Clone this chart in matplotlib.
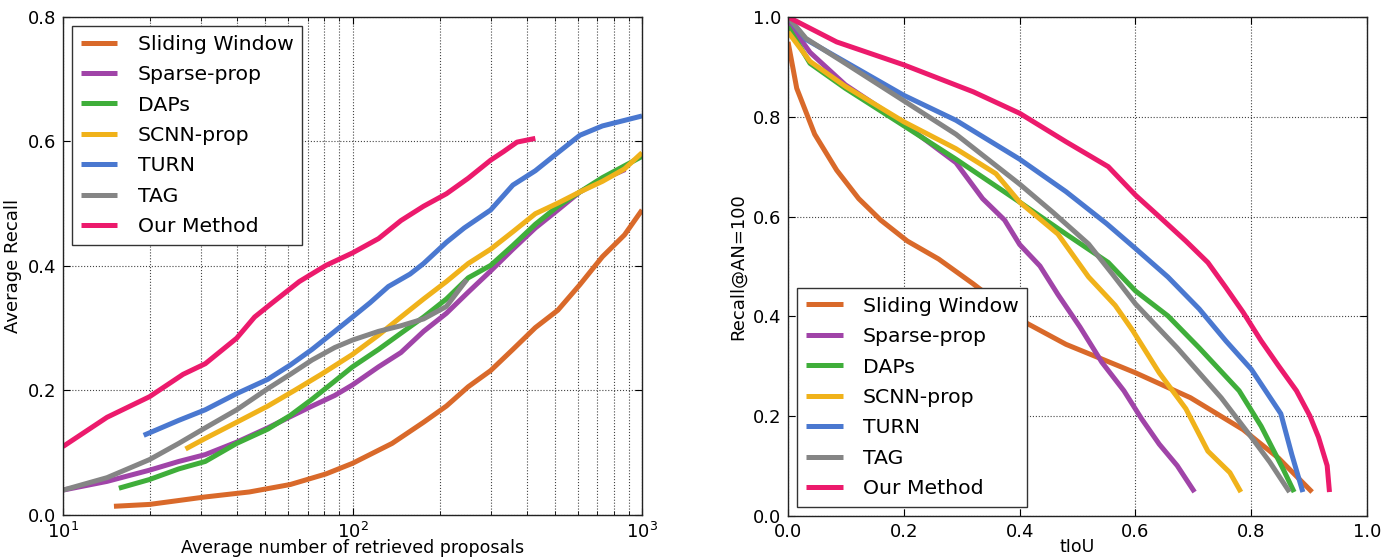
import matplotlib
matplotlib.use("Agg")
import matplotlib.pyplot as plt

# recall vs. number of proposals (left panel)
methods = ["Sliding Window", "Sparse-prop", "DAPs", "SCNN-prop", "TURN", "TAG", "Our Method"]
colors = ["#d9692a", "#a044a8", "#3fae3a", "#f0b21a", "#4a78d0", "#858585", "#ec1a6c"]

sw_n = [15.0, 19.9, 31, 44, 61, 81, 100, 137, 176, 211, 251, 300, 358, 428, 512, 610, 730, 870, 1000]
sw_ar = [0.014, 0.017, 0.029, 0.037, 0.049, 0.066, 0.083, 0.115, 0.149, 0.175, 0.206, 0.232, 0.266, 0.301, 0.329, 0.370, 0.415, 0.450, 0.490]

sp_n = [10, 14.2, 19.9, 25.1, 31, 39.8, 51, 61, 72.5, 86.8, 100, 123, 147, 176, 211, 251, 300, 358, 428, 512, 610, 730, 875]
sp_ar = [0.040, 0.054, 0.072, 0.086, 0.097, 0.117, 0.140, 0.158, 0.175, 0.192, 0.209, 0.238, 0.261, 0.295, 0.324, 0.358, 0.392, 0.427, 0.461, 0.490, 0.519, 0.539, 0.555]

daps_n = [15.6, 19.9, 25.1, 31, 39.8, 51, 61, 72.5, 86.8, 100, 123, 147, 176, 211, 251, 300, 358, 428, 512, 610, 730, 1000]
daps_ar = [0.043, 0.057, 0.074, 0.086, 0.115, 0.138, 0.160, 0.186, 0.215, 0.238, 0.266, 0.292, 0.318, 0.347, 0.381, 0.401, 0.433, 0.467, 0.496, 0.519, 0.542, 0.576]

scnn_n = [26.5, 31, 39.8, 51, 63, 78, 100, 123, 147, 176, 211, 251, 300, 358, 428, 512, 610, 730, 870, 1000]
scnn_ar = [0.106, 0.123, 0.149, 0.175, 0.200, 0.226, 0.258, 0.289, 0.318, 0.347, 0.375, 0.404, 0.427, 0.455, 0.484, 0.501, 0.519, 0.536, 0.556, 0.582]

turn_n = [19.0, 25.1, 31, 39.8, 51, 61, 72.5, 86.8, 100, 115, 133, 158, 176, 211, 243, 300, 358, 428, 512, 610, 730, 1000]
turn_ar = [0.128, 0.152, 0.169, 0.195, 0.218, 0.241, 0.266, 0.295, 0.318, 0.341, 0.367, 0.387, 0.404, 0.438, 0.461, 0.490, 0.530, 0.553, 0.582, 0.610, 0.625, 0.641]

tag_n = [10, 14.2, 19.9, 25.1, 31, 39.8, 51, 61, 72.5, 86.8, 100, 123, 147, 176, 211, 248]
tag_ar = [0.040, 0.060, 0.089, 0.115, 0.140, 0.169, 0.203, 0.226, 0.249, 0.269, 0.281, 0.295, 0.304, 0.315, 0.335, 0.378]

ours_n = [10, 14.2, 19.9, 26.0, 31, 39.8, 45.9, 52.9, 65.5, 81, 100, 123, 147, 176, 211, 251, 300, 333, 370, 428]
ours_ar = [0.110, 0.157, 0.190, 0.226, 0.243, 0.284, 0.318, 0.341, 0.375, 0.401, 0.421, 0.444, 0.473, 0.496, 0.516, 0.541, 0.570, 0.584, 0.599, 0.605]

# recall at AN=100 vs. tIoU threshold (right panel)
sw_t = [0.0, 0.015, 0.046, 0.084, 0.122, 0.160, 0.206, 0.26, 0.32, 0.40, 0.48, 0.60, 0.695, 0.786, 0.847, 0.905]
sw_r = [0.95, 0.857, 0.765, 0.693, 0.636, 0.593, 0.551, 0.515, 0.465, 0.394, 0.344, 0.287, 0.237, 0.173, 0.116, 0.048]

sp_t = [0.0, 0.038, 0.099, 0.20, 0.29, 0.336, 0.374, 0.40, 0.435, 0.466, 0.504, 0.542, 0.58, 0.611, 0.641, 0.672, 0.702]
sp_r = [0.99, 0.929, 0.864, 0.786, 0.708, 0.636, 0.593, 0.544, 0.501, 0.444, 0.379, 0.308, 0.251, 0.194, 0.144, 0.101, 0.048]

daps_t = [0.0, 0.038, 0.099, 0.20, 0.29, 0.40, 0.48, 0.553, 0.60, 0.656, 0.71, 0.779, 0.817, 0.855, 0.874]
daps_r = [0.98, 0.907, 0.857, 0.782, 0.715, 0.629, 0.565, 0.508, 0.451, 0.401, 0.337, 0.251, 0.180, 0.094, 0.048]

scnn_t = [0.0, 0.038, 0.099, 0.20, 0.29, 0.359, 0.40, 0.466, 0.519, 0.565, 0.595, 0.641, 0.687, 0.725, 0.763, 0.782]
scnn_r = [0.97, 0.911, 0.861, 0.790, 0.736, 0.686, 0.629, 0.565, 0.479, 0.422, 0.372, 0.287, 0.215, 0.130, 0.087, 0.048]

turn_t = [0.0, 0.031, 0.099, 0.20, 0.29, 0.40, 0.48, 0.55, 0.60, 0.656, 0.71, 0.756, 0.80, 0.851, 0.870, 0.889]
turn_r = [1.0, 0.955, 0.910, 0.843, 0.793, 0.715, 0.650, 0.586, 0.536, 0.479, 0.415, 0.351, 0.294, 0.205, 0.123, 0.048]

tag_t = [0.0, 0.031, 0.099, 0.20, 0.29, 0.40, 0.458, 0.519, 0.56, 0.60, 0.672, 0.748, 0.80, 0.832, 0.866]
tag_r = [1.0, 0.957, 0.907, 0.832, 0.765, 0.665, 0.608, 0.545, 0.485, 0.425, 0.337, 0.237, 0.158, 0.108, 0.048]

ours_t = [0.0, 0.084, 0.20, 0.32, 0.40, 0.48, 0.553, 0.60, 0.641, 0.687, 0.725, 0.756, 0.786, 0.817, 0.847, 0.878, 0.901, 0.916, 0.931, 0.935]
ours_r = [1.0, 0.950, 0.904, 0.850, 0.807, 0.750, 0.700, 0.643, 0.600, 0.551, 0.508, 0.458, 0.408, 0.351, 0.301, 0.251, 0.201, 0.158, 0.101, 0.048]

left_series = [(sw_n, sw_ar), (sp_n, sp_ar), (daps_n, daps_ar), (scnn_n, scnn_ar),
               (turn_n, turn_ar), (tag_n, tag_ar), (ours_n, ours_ar)]
right_series = [(sw_t, sw_r), (sp_t, sp_r), (daps_t, daps_r), (scnn_t, scnn_r),
                (turn_t, turn_r), (tag_t, tag_r), (ours_t, ours_r)]

plt.rcParams['font.family'] = 'DejaVu Sans'
plt.rcParams['font.size'] = 13
plt.rcParams['xtick.direction'] = 'in'
plt.rcParams['ytick.direction'] = 'in'
plt.rcParams['xtick.top'] = True
plt.rcParams['ytick.right'] = True

fig = plt.figure(figsize=(13.84, 5.57), dpi=100)
ax1 = fig.add_axes([0.0455, 0.0754, 0.4184, 0.8941])
ax2 = fig.add_axes([0.5694, 0.0736, 0.4184, 0.8959])

leg_kw = dict(fancybox=False, edgecolor='#333333', framealpha=1, fontsize=14.7,
              handlelength=1.8, handletextpad=1.0, labelspacing=0.56,
              borderpad=0.42, borderaxespad=0.45)

lw = 3.6
for (x, y), name, c in zip(left_series, methods, colors):
    ax1.plot(x, y, color=c, lw=lw, label=name, solid_capstyle='butt')
ax1.set_xscale('log')
ax1.set_xlim(10, 1000)
ax1.set_ylim(0, 0.8)
ax1.set_yticks([0.0, 0.2, 0.4, 0.6, 0.8])
ax1.grid(True, which='both', axis='x', color='#444444', linestyle=':', lw=0.8)
ax1.grid(True, which='major', axis='y', color='#444444', linestyle=':', lw=0.8)
ax1.set_xlabel('Average number of retrieved proposals', labelpad=-2, fontsize=12.5)
ax1.set_ylabel('Average Recall')
ax1.legend(loc='upper left', **leg_kw)

for (x, y), name, c in zip(right_series, methods, colors):
    ax2.plot(x, y, color=c, lw=lw, label=name, solid_capstyle='butt')
ax2.set_xlim(0, 1.0)
ax2.set_ylim(0, 1.0)
ax2.set_xticks([0.0, 0.2, 0.4, 0.6, 0.8, 1.0])
ax2.set_yticks([0.0, 0.2, 0.4, 0.6, 0.8, 1.0])
ax2.grid(True, color='#444444', linestyle=':', lw=0.8)
ax2.set_xlabel('tIoU', labelpad=-2, fontsize=12.5)
ax2.set_ylabel('Recall@AN=100')
ax2.legend(loc='lower left', **leg_kw)

for ax in (ax1, ax2):
    for s in ax.spines.values():
        s.set_color('#222222')
        s.set_linewidth(1.0)
    ax.tick_params(which='major', length=5, pad=5)
    ax.tick_params(which='minor', length=3)

fig.savefig('out.png', dpi=100, facecolor='white')
